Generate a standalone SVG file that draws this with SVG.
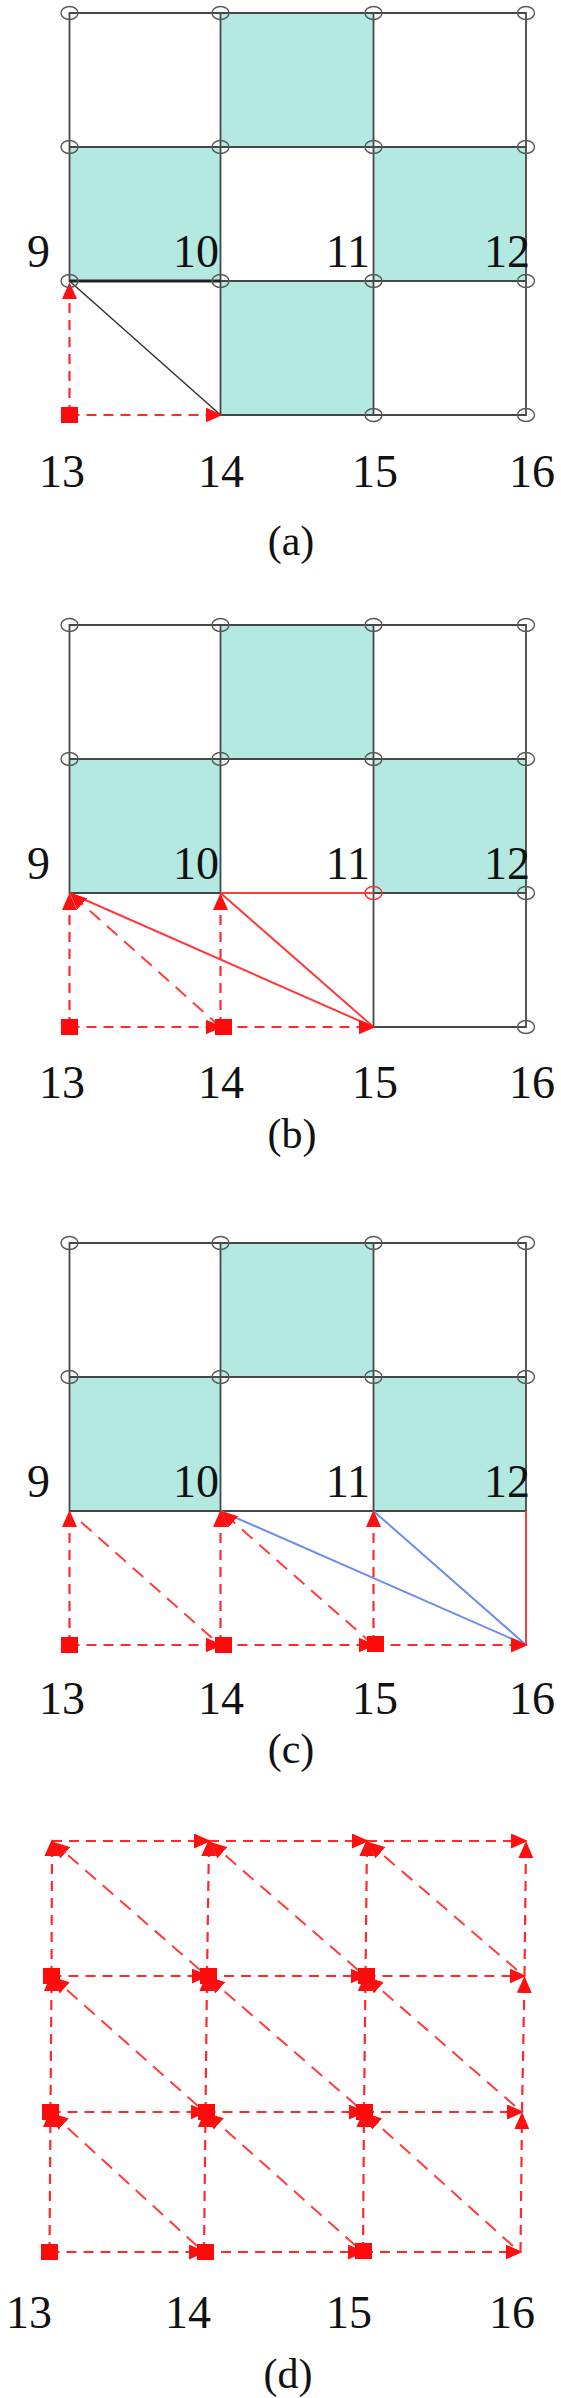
<svg xmlns="http://www.w3.org/2000/svg" width="561" height="2398" viewBox="0 0 561 2398">
<style>
.cell{fill:#b3e9e1}
.grid{stroke:#474747;stroke-width:1.8;fill:none;stroke-linecap:square}
.bold{stroke:#222;stroke-width:3}
.thin{stroke:#333;stroke-width:1.5;fill:none}
.ring{fill:none;stroke:#5a5a5a;stroke-width:1.4}
.ringr{fill:none;stroke:#ff3030;stroke-width:1.4}
.sq{fill:#ff0a0a}
.dash{stroke:#ff2a2a;stroke-width:2.2;stroke-dasharray:10 7;fill:none}
.ddiag{stroke:#ff3d3d;stroke-width:2;stroke-dasharray:14 9;fill:none}
.red{stroke:#ff3a3a;stroke-width:2;fill:none}
.blue{stroke:#6b8ded;stroke-width:2;fill:none}
.lbl{font-family:"Liberation Serif","Times New Roman",serif;font-size:46px;fill:#111}
.cap{font-family:"Liberation Serif","Times New Roman",serif;font-size:42px;fill:#111}
</style>
<defs>
<marker id="arr" viewBox="0 0 17 15" refX="15" refY="7.5" markerWidth="17" markerHeight="15" markerUnits="userSpaceOnUse" orient="auto"><path d="M0,0 L17,7.5 L0,15 z" fill="#ff0f0f"/></marker>
</defs>

<!-- ===================== Panel (a) ===================== -->
<g id="panel-a">
<g id="a-cells">
<rect class="cell" x="220.5" y="13" width="153" height="134"/>
<rect class="cell" x="69.5" y="147" width="151" height="134"/>
<rect class="cell" x="373.5" y="147" width="152.5" height="134"/>
<rect class="cell" x="220.5" y="281" width="153" height="134"/>
</g>
<g id="a-grid">
<path class="grid" d="M69.5,13H526M69.5,147H526M220.5,281H526M220.5,415H526M69.5,13V281M220.5,13V415M373.5,13V415M526,13V415"/>
<path class="bold" d="M69.5,281H220.5"/>
</g>
<g id="a-connectors">
<line class="thin" x1="69.5" y1="281" x2="220.5" y2="415"/>
<line class="dash" x1="69.5" y1="415" x2="69.5" y2="284" marker-end="url(#arr)"/>
<line class="dash" x1="69.5" y1="415" x2="220.5" y2="415" marker-end="url(#arr)"/>
</g>
<g id="a-n1"><ellipse class="ring" cx="69.5" cy="13" rx="8.5" ry="6.5"/></g>
<g id="a-n2"><ellipse class="ring" cx="220.5" cy="13" rx="8.5" ry="6.5"/></g>
<g id="a-n3"><ellipse class="ring" cx="373.5" cy="13" rx="8.5" ry="6.5"/></g>
<g id="a-n4"><ellipse class="ring" cx="526" cy="13" rx="8.5" ry="6.5"/></g>
<g id="a-n5"><ellipse class="ring" cx="69.5" cy="147" rx="8.5" ry="6.5"/></g>
<g id="a-n6"><ellipse class="ring" cx="220.5" cy="147" rx="8.5" ry="6.5"/></g>
<g id="a-n7"><ellipse class="ring" cx="373.5" cy="147" rx="8.5" ry="6.5"/></g>
<g id="a-n8"><ellipse class="ring" cx="526" cy="147" rx="8.5" ry="6.5"/></g>
<g id="a-n9"><ellipse class="ring" cx="69.5" cy="281" rx="8.5" ry="6.5"/><text class="lbl" x="50" y="267" text-anchor="end">9</text></g>
<g id="a-n10"><ellipse class="ring" cx="220.5" cy="281" rx="8.5" ry="6.5"/><text class="lbl" x="219" y="267" text-anchor="end">10</text></g>
<g id="a-n11"><ellipse class="ring" cx="373.5" cy="281" rx="8.5" ry="6.5"/><text class="lbl" x="370" y="267" text-anchor="end">11</text></g>
<g id="a-n12"><ellipse class="ring" cx="526" cy="281" rx="8.5" ry="6.5"/><text class="lbl" x="530" y="267" text-anchor="end">12</text></g>
<g id="a-n13"><rect class="sq" x="61" y="407" width="17" height="16"/><text class="lbl" x="62" y="487" text-anchor="middle">13</text></g>
<g id="a-n14"><text class="lbl" x="221" y="487" text-anchor="middle">14</text></g>
<g id="a-n15"><ellipse class="ring" cx="373.5" cy="415" rx="8.5" ry="6.5"/><text class="lbl" x="375" y="487" text-anchor="middle">15</text></g>
<g id="a-n16"><ellipse class="ring" cx="526" cy="415" rx="8.5" ry="6.5"/><text class="lbl" x="532" y="487" text-anchor="middle">16</text></g>
<text class="cap" x="291" y="555" text-anchor="middle">(a)</text>
</g>

<!-- ===================== Panel (b) ===================== -->
<g id="panel-b">
<g id="b-cells">
<rect class="cell" x="220.5" y="625" width="153" height="134"/>
<rect class="cell" x="69.5" y="759" width="151" height="134"/>
<rect class="cell" x="373.5" y="759" width="152.5" height="134"/>
</g>
<g id="b-grid">
<path class="grid" d="M69.5,625H526M69.5,759H526M69.5,893H220.5M373.5,893H526M373.5,1027H526M69.5,625V893M220.5,625V893M373.5,625V1027M526,625V1027"/>
</g>
<g id="b-connectors">
<line class="red" x1="220.5" y1="893" x2="373.5" y2="893"/>
<line class="red" x1="373.5" y1="1027" x2="69.5" y2="893"/>
<line class="red" x1="373.5" y1="1027" x2="220.5" y2="893"/>
<line class="dash" x1="69.5" y1="1027" x2="69.5" y2="895" marker-end="url(#arr)"/>
<line class="dash" x1="69.5" y1="1027" x2="220.5" y2="1027" marker-end="url(#arr)"/>
<line class="ddiag" x1="220.5" y1="1027" x2="71" y2="894" marker-end="url(#arr)"/>
<line class="dash" x1="220.5" y1="1027" x2="220.5" y2="895" marker-end="url(#arr)"/>
<line class="dash" x1="220.5" y1="1027" x2="373.5" y2="1027" marker-end="url(#arr)"/>
</g>
<g id="b-n1"><ellipse class="ring" cx="69.5" cy="625" rx="8.5" ry="6.5"/></g>
<g id="b-n2"><ellipse class="ring" cx="220.5" cy="625" rx="8.5" ry="6.5"/></g>
<g id="b-n3"><ellipse class="ring" cx="373.5" cy="625" rx="8.5" ry="6.5"/></g>
<g id="b-n4"><ellipse class="ring" cx="526" cy="625" rx="8.5" ry="6.5"/></g>
<g id="b-n5"><ellipse class="ring" cx="69.5" cy="759" rx="8.5" ry="6.5"/></g>
<g id="b-n6"><ellipse class="ring" cx="220.5" cy="759" rx="8.5" ry="6.5"/></g>
<g id="b-n7"><ellipse class="ring" cx="373.5" cy="759" rx="8.5" ry="6.5"/></g>
<g id="b-n8"><ellipse class="ring" cx="526" cy="759" rx="8.5" ry="6.5"/></g>
<g id="b-n9"><text class="lbl" x="50" y="879" text-anchor="end">9</text></g>
<g id="b-n10"><text class="lbl" x="219" y="879" text-anchor="end">10</text></g>
<g id="b-n11"><ellipse class="ringr" cx="373.5" cy="893" rx="8.5" ry="6.5"/><text class="lbl" x="370" y="879" text-anchor="end">11</text></g>
<g id="b-n12"><ellipse class="ring" cx="526" cy="893" rx="8.5" ry="6.5"/><text class="lbl" x="530" y="879" text-anchor="end">12</text></g>
<g id="b-n13"><rect class="sq" x="61" y="1019" width="17" height="16"/><text class="lbl" x="62" y="1098" text-anchor="middle">13</text></g>
<g id="b-n14"><rect class="sq" x="215" y="1019" width="17" height="16"/><text class="lbl" x="221" y="1098" text-anchor="middle">14</text></g>
<g id="b-n15"><text class="lbl" x="375" y="1098" text-anchor="middle">15</text></g>
<g id="b-n16"><ellipse class="ring" cx="526" cy="1027" rx="8.5" ry="6.5"/><text class="lbl" x="532" y="1098" text-anchor="middle">16</text></g>
<text class="cap" x="292" y="1148" text-anchor="middle">(b)</text>
</g>

<!-- ===================== Panel (c) ===================== -->
<g id="panel-c">
<g id="c-cells">
<rect class="cell" x="220.5" y="1243" width="153" height="134"/>
<rect class="cell" x="69.5" y="1377" width="151" height="134"/>
<rect class="cell" x="373.5" y="1377" width="152.5" height="134"/>
</g>
<g id="c-grid">
<path class="grid" d="M69.5,1243H526M69.5,1377H526M69.5,1511H526M69.5,1243V1511M220.5,1243V1511M373.5,1243V1511M526,1243V1511"/>
</g>
<g id="c-connectors">
<line class="red" x1="526" y1="1511" x2="526" y2="1645"/>
<line class="blue" x1="526" y1="1645" x2="220.5" y2="1511"/>
<line class="blue" x1="526" y1="1645" x2="373.5" y2="1511"/>
<line class="dash" x1="69.5" y1="1645" x2="69.5" y2="1512" marker-end="url(#arr)"/>
<line class="dash" x1="69.5" y1="1645" x2="220.5" y2="1645" marker-end="url(#arr)"/>
<line class="ddiag" x1="212" y1="1638" x2="80" y2="1521"/>
<line class="dash" x1="220.5" y1="1645" x2="220.5" y2="1512" marker-end="url(#arr)"/>
<line class="dash" x1="220.5" y1="1645" x2="373.5" y2="1645" marker-end="url(#arr)"/>
<line class="ddiag" x1="373.5" y1="1645" x2="222" y2="1512" marker-end="url(#arr)"/>
<line class="dash" x1="373.5" y1="1645" x2="373.5" y2="1512" marker-end="url(#arr)"/>
<line class="dash" x1="373.5" y1="1645" x2="526" y2="1645" marker-end="url(#arr)"/>
</g>
<g id="c-n1"><ellipse class="ring" cx="69.5" cy="1243" rx="8.5" ry="6.5"/></g>
<g id="c-n2"><ellipse class="ring" cx="220.5" cy="1243" rx="8.5" ry="6.5"/></g>
<g id="c-n3"><ellipse class="ring" cx="373.5" cy="1243" rx="8.5" ry="6.5"/></g>
<g id="c-n4"><ellipse class="ring" cx="526" cy="1243" rx="8.5" ry="6.5"/></g>
<g id="c-n5"><ellipse class="ring" cx="69.5" cy="1377" rx="8.5" ry="6.5"/></g>
<g id="c-n6"><ellipse class="ring" cx="220.5" cy="1377" rx="8.5" ry="6.5"/></g>
<g id="c-n7"><ellipse class="ring" cx="373.5" cy="1377" rx="8.5" ry="6.5"/></g>
<g id="c-n8"><ellipse class="ring" cx="526" cy="1377" rx="8.5" ry="6.5"/></g>
<g id="c-n9"><text class="lbl" x="50" y="1497" text-anchor="end">9</text></g>
<g id="c-n10"><text class="lbl" x="219" y="1497" text-anchor="end">10</text></g>
<g id="c-n11"><text class="lbl" x="370" y="1497" text-anchor="end">11</text></g>
<g id="c-n12"><text class="lbl" x="530" y="1497" text-anchor="end">12</text></g>
<g id="c-n13"><rect class="sq" x="61" y="1637" width="17" height="16"/><text class="lbl" x="62" y="1714" text-anchor="middle">13</text></g>
<g id="c-n14"><rect class="sq" x="215" y="1637" width="17" height="16"/><text class="lbl" x="221" y="1714" text-anchor="middle">14</text></g>
<g id="c-n15"><rect class="sq" x="367" y="1636" width="17" height="16"/><text class="lbl" x="375" y="1714" text-anchor="middle">15</text></g>
<g id="c-n16"><text class="lbl" x="532" y="1714" text-anchor="middle">16</text></g>
<text class="cap" x="291" y="1763" text-anchor="middle">(c)</text>
</g>

<!-- ===================== Panel (d) ===================== -->
<g id="panel-d">
<g id="d-connectors">
<line class="dash" x1="52" y1="1841" x2="209" y2="1841" marker-end="url(#arr)"/>
<line class="dash" x1="209" y1="1841" x2="367" y2="1841" marker-end="url(#arr)"/>
<line class="dash" x1="367" y1="1841" x2="526" y2="1841" marker-end="url(#arr)"/>
<line class="dash" x1="51.5" y1="1976" x2="207" y2="1976" marker-end="url(#arr)"/>
<line class="dash" x1="207" y1="1976" x2="365.5" y2="1976" marker-end="url(#arr)"/>
<line class="dash" x1="365.5" y1="1976" x2="524.5" y2="1976" marker-end="url(#arr)"/>
<line class="dash" x1="50.5" y1="2112" x2="205.5" y2="2112" marker-end="url(#arr)"/>
<line class="dash" x1="205.5" y1="2112" x2="364" y2="2112" marker-end="url(#arr)"/>
<line class="dash" x1="364" y1="2112" x2="522" y2="2112" marker-end="url(#arr)"/>
<line class="dash" x1="49.5" y1="2252" x2="204" y2="2252" marker-end="url(#arr)"/>
<line class="dash" x1="204" y1="2252" x2="363" y2="2252" marker-end="url(#arr)"/>
<line class="dash" x1="363" y1="2252" x2="520.5" y2="2252" marker-end="url(#arr)"/>
<line class="dash" x1="51.5" y1="1976" x2="52" y2="1841" marker-end="url(#arr)"/>
<line class="dash" x1="50.5" y1="2112" x2="51.5" y2="1976" marker-end="url(#arr)"/>
<line class="dash" x1="49.5" y1="2252" x2="50.5" y2="2112" marker-end="url(#arr)"/>
<line class="dash" x1="207" y1="1976" x2="209" y2="1841" marker-end="url(#arr)"/>
<line class="dash" x1="205.5" y1="2112" x2="207" y2="1976" marker-end="url(#arr)"/>
<line class="dash" x1="204" y1="2252" x2="205.5" y2="2112" marker-end="url(#arr)"/>
<line class="dash" x1="365.5" y1="1976" x2="367" y2="1841" marker-end="url(#arr)"/>
<line class="dash" x1="364" y1="2112" x2="365.5" y2="1976" marker-end="url(#arr)"/>
<line class="dash" x1="363" y1="2252" x2="364" y2="2112" marker-end="url(#arr)"/>
<line class="dash" x1="524.5" y1="1976" x2="526" y2="1843" marker-end="url(#arr)"/>
<line class="dash" x1="522" y1="2112" x2="524.5" y2="1978" marker-end="url(#arr)"/>
<line class="dash" x1="520.5" y1="2252" x2="522" y2="2114" marker-end="url(#arr)"/>
<line class="ddiag" x1="200" y1="1970" x2="54" y2="1843" marker-end="url(#arr)"/>
<line class="ddiag" x1="358" y1="1970" x2="211" y2="1843" marker-end="url(#arr)"/>
<line class="ddiag" x1="517" y1="1970" x2="369" y2="1843" marker-end="url(#arr)"/>
<line class="ddiag" x1="198" y1="2106" x2="53.5" y2="1978" marker-end="url(#arr)"/>
<line class="ddiag" x1="357" y1="2106" x2="209" y2="1978" marker-end="url(#arr)"/>
<line class="ddiag" x1="515" y1="2106" x2="367.5" y2="1978" marker-end="url(#arr)"/>
<line class="ddiag" x1="197" y1="2246" x2="52.5" y2="2114" marker-end="url(#arr)"/>
<line class="ddiag" x1="356" y1="2246" x2="207.5" y2="2114" marker-end="url(#arr)"/>
<line class="ddiag" x1="513" y1="2246" x2="366" y2="2114" marker-end="url(#arr)"/>
</g>
<g id="d-n1"/>
<g id="d-n2"/>
<g id="d-n3"/>
<g id="d-n4"/>
<g id="d-n5"><rect class="sq" x="43" y="1968" width="17" height="16"/></g>
<g id="d-n6"><rect class="sq" x="200" y="1968" width="17" height="16"/></g>
<g id="d-n7"><rect class="sq" x="358" y="1968" width="17" height="16"/></g>
<g id="d-n8"/>
<g id="d-n9"><rect class="sq" x="42" y="2104" width="17" height="16"/></g>
<g id="d-n10"><rect class="sq" x="198" y="2104" width="17" height="16"/></g>
<g id="d-n11"><rect class="sq" x="356" y="2104" width="17" height="16"/></g>
<g id="d-n12"/>
<g id="d-n13"><rect class="sq" x="41" y="2244" width="17" height="16"/><text class="lbl" x="29" y="2328" text-anchor="middle">13</text></g>
<g id="d-n14"><rect class="sq" x="197" y="2244" width="17" height="16"/><text class="lbl" x="188" y="2328" text-anchor="middle">14</text></g>
<g id="d-n15"><rect class="sq" x="355" y="2243" width="17" height="16"/><text class="lbl" x="349" y="2328" text-anchor="middle">15</text></g>
<g id="d-n16"><text class="lbl" x="512" y="2328" text-anchor="middle">16</text></g>
<text class="cap" x="288" y="2388" text-anchor="middle">(d)</text>
</g>
</svg>
